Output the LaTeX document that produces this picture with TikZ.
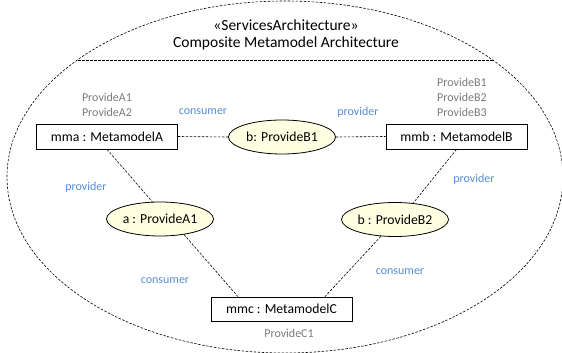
\documentclass[tikz,border=0pt]{standalone}
\usepackage{fontspec}
\setmainfont{Carlito}
\usetikzlibrary{calc,shapes.geometric}
\definecolor{lblue}{RGB}{84,141,212}
\definecolor{dgray}{RGB}{122,122,122}
\definecolor{cream}{RGB}{255,255,225}
\begin{document}
\begin{tikzpicture}[x=1pt,y=-1pt,
  box/.style={draw,line width=0.8pt,minimum width=141pt,minimum height=25pt,inner sep=0pt,font=\fontsize{13.7}{16}\selectfont},
  part/.style={ellipse,draw,line width=0.8pt,fill=cream,minimum width=107pt,minimum height=34pt,inner sep=0pt,font=\fontsize{13.7}{16}\selectfont},
  conn/.style={dash pattern=on 2.5pt off 1.5pt,line width=0.6pt},
  role/.style={text=lblue,font=\fontsize{12}{14}\selectfont,inner sep=0pt},
  prov/.style={text=dgray,font=\fontsize{12}{15}\selectfont,inner sep=0pt,align=left},
  ttl/.style={font=\fontsize{15.5}{18}\selectfont,inner sep=0pt}]
\useasboundingbox (0,0) rectangle (562,353);
% enclosing ellipse and compartment line
\draw[conn] (285,177) ellipse [x radius=278pt, y radius=176pt];
\coordinate (sepL) at (78,60);
\coordinate (sepR) at (493,60);
\draw[conn] (sepL) -- (sepR);
\node[ttl] (t1) at (286,25) {«ServicesArchitecture»};
\node[ttl] (t2) at (286,43.5) {Composite Metamodel Architecture};
% parts
\node[box] (mma) at (107,136.5) {mma : MetamodelA};
\node[box] (mmb) at (456.5,136.5) {mmb : MetamodelB};
\node[box,minimum height=24pt] (mmc) at (281.5,309) {mmc : MetamodelC};
\node[part] (B1) at (282,137) {b: ProvideB1};
\node[part] (A1) at (160,219) {a : ProvideA1};
\node[part] (B2) at (395,219.5) {b : ProvideB2};
% connectors
\draw[conn] (mma.east) -- (B1.west);
\draw[conn] (B1.east) -- (mmb.west);
\draw[conn] (mma.south) -- (A1.114);
\draw[conn] (mmb.south) -- (B2.42);
\draw[conn] (A1.-33) -- ($(mmc.north)+(-43.5,0)$);
\draw[conn] (B2.-130) -- ($(mmc.north)+(43.5,0)$);
% labels
\node[prov] (pa) at (107,105) {ProvideA1\\ProvideA2};
\node[prov] (pb) at (462,97.5) {ProvideB1\\ProvideB2\\ProvideB3};
\node[prov] (pc) at (289,333) {ProvideC1};
\node[role] (r1) at (203,112) {consumer};
\node[role] (r2) at (358,112) {provider};
\node[role] (r3) at (86,187) {provider};
\node[role] (r4) at (474,179) {provider};
\node[role] (r5) at (165,281) {consumer};
\node[role] (r6) at (400,272) {consumer};
\end{tikzpicture}
\end{document}
